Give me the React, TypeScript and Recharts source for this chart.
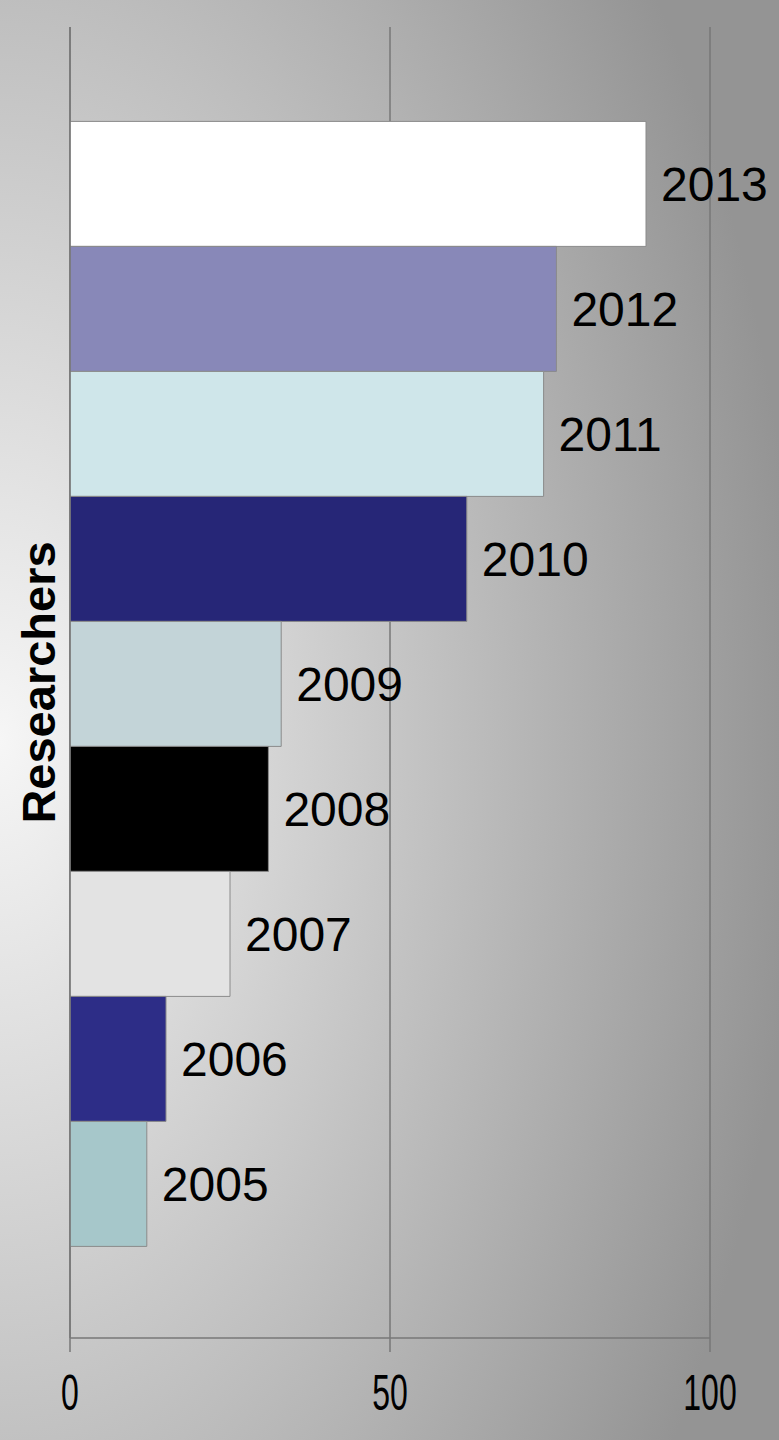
import { BarChart, Bar, XAxis, YAxis, CartesianGrid, LabelList } from "recharts";

const years = ["2013", "2012", "2011", "2010", "2009", "2008", "2007", "2006", "2005"];
const values = [90, 76, 74, 62, 33, 31, 25, 15, 12];
const colors = ["#ffffff", "#8888b8", "#cfe6ea", "#262677", "#c3d4d8", "#000000", "#e3e3e3", "#2d2d87", "#a6c7ca"];
const category = "Researchers";
const xTicks = [0, 50, 100];

const row: Record<string, string | number> = { name: category };
years.forEach((y, i) => {
    row["y" + y] = values[i];
});
const data = [row];

const FONT = "'Liberation Sans', Arial, sans-serif";

// narrow tick numbers like the original
function XTick(props: any) {
    const { x, y, payload } = props;
    return (
        <text
            transform={`translate(${x},${y + 56}) scale(0.64,1)`}
            textAnchor="middle"
            fontFamily={FONT}
            fontSize={50}
            fill="#000"
        >
            {payload.value}
        </text>
    );
}

function YTick(props: any) {
    const { y, payload } = props;
    return (
        <text
            transform={`translate(55,${y}) rotate(-90)`}
            textAnchor="middle"
            fontFamily={FONT}
            fontSize={47}
            fontWeight="bold"
            fill="#000"
        >
            {payload.value}
        </text>
    );
}

export default function App() {
    return (
        <div
            style={{
                position: "absolute",
                top: 0,
                left: 0,
                width: 779,
                height: 1440,
                background: "radial-gradient(ellipse 800px 1300px at 0px 740px, #f6f6f6 0%, #949494 100%)",
            }}
        >
            <BarChart
                width={779}
                height={1440}
                data={data}
                layout="vertical"
                margin={{ top: 27, right: 69, bottom: 0, left: 0 }}
                barCategoryGap="7.2%"
                barGap={0}
            >
                <CartesianGrid horizontal={false} stroke="#777777" strokeWidth={1.5} />
                <XAxis
                    type="number"
                    domain={[0, 100]}
                    ticks={xTicks}
                    height={102}
                    axisLine={{ stroke: "#777777", strokeWidth: 1.5 }}
                    tickLine={{ stroke: "#777777", strokeWidth: 1.5 }}
                    tickSize={14}
                    tick={<XTick />}
                    interval={0}
                />
                <YAxis
                    type="category"
                    dataKey="name"
                    width={70}
                    axisLine={{ stroke: "#777777", strokeWidth: 1.5 }}
                    tickLine={false}
                    tick={<YTick />}
                />
                {years.map((y, i) => (
                    <Bar
                        key={y}
                        dataKey={"y" + y}
                        name={y}
                        fill={colors[i]}
                        stroke="#8a8a8a"
                        strokeWidth={1}
                        isAnimationActive={false}
                    >
                        <LabelList
                            dataKey={"y" + y}
                            position="right"
                            offset={15}
                            content={(p: any) => (
                                <text
                                    x={p.x + p.width + 15}
                                    y={p.y + p.height / 2 + 17}
                                    fontFamily={FONT}
                                    fontSize={48}
                                    fill="#000"
                                >
                                    {y}
                                </text>
                            )}
                        />
                    </Bar>
                ))}
            </BarChart>
        </div>
    );
}
